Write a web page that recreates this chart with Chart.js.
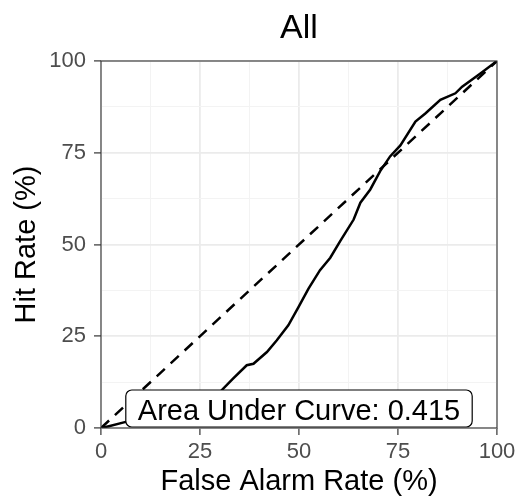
<!DOCTYPE html>
<html>
<head>
<meta charset="utf-8">
<script src="https://cdn.jsdelivr.net/npm/chart.js@4.4.1/dist/chart.umd.min.js"></script>
<style>
  html, body { margin: 0; padding: 0; background: #fff; }
</style>
</head>
<body>
<canvas id="roc" width="521" height="502"></canvas>
<script>
// ROC curve points (percent)
const falseAlarm = [0, 2, 6, 10, 15, 20, 25, 28, 30.5, 33.4, 36.8, 38.5, 41.9, 44.4, 47.3, 49.9, 52.4, 55.3, 57.9, 60.4, 63.8, 65.5, 68, 70.5, 73, 75.6, 79.4, 81.9, 85.7, 89.5, 91.2, 95.8, 100];
const hitRate    = [0, 0.5, 1.6, 2.5, 3.5, 4.5, 6, 8, 10.3, 13.5, 17.1, 17.5, 20.7, 23.9, 28, 33, 38, 43, 46.4, 50.9, 56.8, 61.4, 65, 70, 74, 77, 83.5, 85.7, 89.4, 91.2, 93, 96.6, 100];
// chance diagonal
const chanceX = [0, 100];
const chanceY = [0, 100];

const titleText = "All";
const xTitle = "False Alarm Rate (%)";
const yTitle = "Hit Rate (%)";
const aucLabel = "Area Under Curve: 0.415";
const aucAt = [50, 0];

const FONT = '"Liberation Sans", Arial, sans-serif';

const toPoints = (xs, ys) => xs.map((v, i) => ({ x: v, y: ys[i] }));
const isMajor = v => v % 25 === 0;

// title, AUC label and panel border
const panelExtras = {
    id: 'panelExtras',
    afterDatasetsDraw(chart) {
        const { ctx, chartArea: a, scales: { x, y } } = chart;
        ctx.save();

        ctx.font = '29px ' + FONT;
        const w = ctx.measureText(aucLabel).width + 24;
        const h = 37;
        const cx = x.getPixelForValue(aucAt[0]);
        const bottom = y.getPixelForValue(aucAt[1]) - 1;
        ctx.beginPath();
        ctx.roundRect(cx - w / 2, bottom - h, w, h, 6);
        ctx.fillStyle = '#fff';
        ctx.fill();
        ctx.lineWidth = 1.2;
        ctx.strokeStyle = '#000';
        ctx.stroke();
        ctx.fillStyle = '#000';
        ctx.textAlign = 'center';
        ctx.textBaseline = 'alphabetic';
        ctx.fillText(aucLabel, cx, bottom - 7);

        ctx.strokeStyle = '#333333';
        ctx.lineWidth = 1.1;
        ctx.strokeRect(a.left, a.top, a.right - a.left, a.bottom - a.top);

        ctx.font = '34px ' + FONT;
        ctx.fillStyle = '#000';
        ctx.textAlign = 'center';
        ctx.fillText(titleText, (a.left + a.right) / 2, 38);
        ctx.restore();
    }
};

const gridOpts = {
    color: ctx => isMajor(ctx.tick.value) ? '#EBEBEB' : '#F3F3F3',
    lineWidth: ctx => isMajor(ctx.tick.value) ? 1.8 : 1,
    tickColor: ctx => isMajor(ctx.tick.value) ? '#333333' : 'rgba(0,0,0,0)',
    tickWidth: 1.2,
    tickLength: 7,
    drawTicks: true
};

new Chart(document.getElementById('roc'), {
    type: 'line',
    data: {
        datasets: [
            {
                data: toPoints(falseAlarm, hitRate),
                borderColor: '#000',
                borderWidth: 2.5,
                pointRadius: 0,
                tension: 0,
                fill: false
            },
            {
                data: toPoints(chanceX, chanceY),
                borderColor: '#000',
                borderWidth: 2.5,
                borderDash: [11, 8],
                pointRadius: 0,
                fill: false
            }
        ]
    },
    options: {
        responsive: false,
        animation: false,
        devicePixelRatio: 1,
        layout: { padding: { top: 61, right: 24, left: 0, bottom: 0 } },
        plugins: {
            legend: { display: false },
            tooltip: { enabled: false },
            title: { display: false }
        },
        scales: {
            x: {
                type: 'linear',
                min: 0, max: 100,
                afterFit: s => { s.height = 74; },
                border: { display: false },
                grid: gridOpts,
                ticks: {
                    stepSize: 12.5,
                    autoSkip: false,
                    maxRotation: 0,
                    color: '#4D4D4D',
                    font: { family: FONT, size: 22 },
                    padding: 4,
                    callback: v => isMajor(v) ? String(v) : ''
                },
                title: {
                    display: true,
                    text: xTitle,
                    color: '#000',
                    font: { family: FONT, size: 29 },
                    padding: { top: 0, bottom: 3 }
                }
            },
            y: {
                type: 'linear',
                min: 0, max: 100,
                afterFit: s => { s.width = 101; },
                border: { display: false },
                grid: gridOpts,
                ticks: {
                    stepSize: 12.5,
                    autoSkip: false,
                    color: '#4D4D4D',
                    font: { family: FONT, size: 22 },
                    padding: 8,
                    callback: v => isMajor(v) ? String(v) : ''
                },
                title: {
                    display: true,
                    text: yTitle,
                    color: '#000',
                    font: { family: FONT, size: 29 },
                    padding: { top: 10, bottom: 0 }
                }
            }
        }
    },
    plugins: [panelExtras]
});
</script>
</body>
</html>
